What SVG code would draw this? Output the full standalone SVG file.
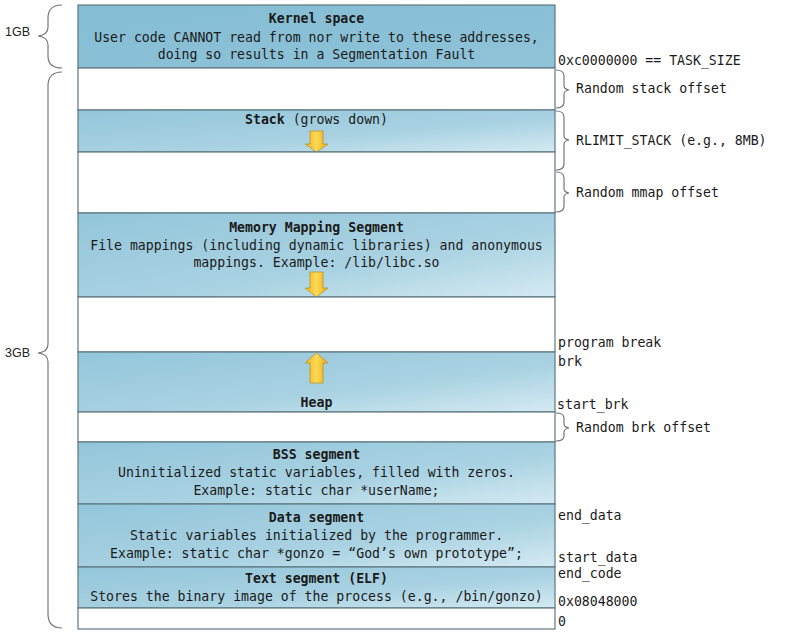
<svg xmlns="http://www.w3.org/2000/svg" width="801" height="637" viewBox="0 0 801 637">
  <style>
    .t { font-family: "DejaVu Sans Mono", "Liberation Mono", monospace; font-size: 13.2px; fill: #1a1a1a; }
    .c { text-anchor: middle; }
    .b { font-weight: bold; }
    .seg { stroke: #5e7880; stroke-width: 1.2; }
    .blank { fill: #ffffff; }
    .blue { fill: url(#segGrad); }
    .brace { fill: none; stroke: #777; stroke-width: 1.2; }
    .arrow { fill: url(#arrowGrad); stroke: #b8962e; stroke-width: 0.8; }
    .side { font-family: "Liberation Sans", "DejaVu Sans", sans-serif; font-size: 12.5px; fill: #222; }
  </style>
  <defs>
    <linearGradient id="segGrad" x1="0" y1="0" x2="1" y2="1">
      <stop offset="0" stop-color="#93c6da"/>
      <stop offset="0.6" stop-color="#a9d2e2"/>
      <stop offset="1" stop-color="#d4eaf2"/>
    </linearGradient>
    <linearGradient id="kernGrad" x1="0" y1="0" x2="1" y2="1">
      <stop offset="0" stop-color="#84bdd4"/>
      <stop offset="1" stop-color="#8fc3d8"/>
    </linearGradient>
    <linearGradient id="arrowGrad" x1="0" y1="0" x2="1" y2="0">
      <stop offset="0" stop-color="#f2b21c"/>
      <stop offset="0.5" stop-color="#fcd955"/>
      <stop offset="1" stop-color="#eea812"/>
    </linearGradient>
  </defs>

  <rect width="801" height="637" fill="#ffffff"/>

  <!-- memory segments, top (high addresses) to bottom -->
  <g id="kernel">
    <rect class="seg" x="78" y="5" width="477" height="63" fill="url(#kernGrad)"/>
    <text class="t c b" x="316.5" y="23">Kernel space</text>
    <text class="t c" x="316.5" y="42">User code CANNOT read from nor write to these addresses,</text>
    <text class="t c" x="316.5" y="59">doing so results in a Segmentation Fault</text>
  </g>
  <g id="gap-stack">
    <rect class="seg blank" x="78" y="68" width="477" height="42"/>
  </g>
  <g id="stack">
    <rect class="seg blue" x="78" y="110" width="477" height="42"/>
    <text class="t c" x="316.5" y="124"><tspan class="b">Stack</tspan> (grows down)</text>
    <path class="arrow" d="M310,131 H323 V144 H328 L316.5,152 L305,144 H310 Z"/>
  </g>
  <g id="gap-mmap">
    <rect class="seg blank" x="78" y="152" width="477" height="61"/>
  </g>
  <g id="mmap">
    <rect class="seg blue" x="78" y="213" width="477" height="84"/>
    <text class="t c b" x="316.5" y="232">Memory Mapping Segment</text>
    <text class="t c" x="316.5" y="250">File mappings (including dynamic libraries) and anonymous</text>
    <text class="t c" x="316.5" y="267">mappings. Example: /lib/libc.so</text>
    <path class="arrow" d="M310,272 H323 V288 H328 L316.5,297 L305,288 H310 Z"/>
  </g>
  <g id="gap-heap">
    <rect class="seg blank" x="78" y="297" width="477" height="55"/>
  </g>
  <g id="heap">
    <rect class="seg blue" x="78" y="352" width="477" height="60"/>
    <path class="arrow" d="M316.5,353 L328,363 H323 V383 H310 V363 H305 Z"/>
    <text class="t c b" x="316.5" y="407">Heap</text>
  </g>
  <g id="gap-brk">
    <rect class="seg blank" x="78" y="412" width="477" height="30"/>
  </g>
  <g id="bss">
    <rect class="seg blue" x="78" y="442" width="477" height="62"/>
    <text class="t c b" x="316.5" y="459">BSS segment</text>
    <text class="t c" x="316.5" y="477">Uninitialized static variables, filled with zeros.</text>
    <text class="t c" x="316.5" y="495">Example: static char *userName;</text>
  </g>
  <g id="data">
    <rect class="seg blue" x="78" y="504" width="477" height="63"/>
    <text class="t c b" x="316.5" y="522">Data segment</text>
    <text class="t c" x="316.5" y="540">Static variables initialized by the programmer.</text>
    <text class="t c" x="316.5" y="558">Example: static char *gonzo = “God’s own prototype”;</text>
  </g>
  <g id="text-seg">
    <rect class="seg blue" x="78" y="567" width="477" height="41"/>
    <text class="t c b" x="316.5" y="583">Text segment (ELF)</text>
    <text class="t c" x="316.5" y="601">Stores the binary image of the process (e.g., /bin/gonzo)</text>
  </g>
  <g id="gap-low">
    <rect class="seg blank" x="78" y="608" width="477" height="21"/>
  </g>

  <!-- braces and size labels -->
  <g id="connectors">
    <path class="brace" d="M62,5 Q48,5 48,18 V27 Q48,35 38,36 Q48,37 48,45 V56 Q48,68 62,68"/>
    <path class="brace" d="M62,72 Q48,72 48,86 V344 Q48,352 38,353 Q48,354 48,362 V614 Q48,628 62,628"/>
    <path class="brace" d="M556,70 Q564,70 564,76 V86 Q564,89 569,90 Q564,91 564,94 V102 Q564,108 556,108"/>
    <path class="brace" d="M556,111 Q564,111 564,117 V136 Q564,139 569,140 Q564,141 564,144 V164 Q564,170 556,170"/>
    <path class="brace" d="M556,172 Q564,172 564,178 V189 Q564,192 569,193 Q564,194 564,197 V206 Q564,212 556,212"/>
    <path class="brace" d="M556,413 Q564,413 564,418 V424 Q564,427 569,428 Q564,429 564,432 V436 Q564,441 556,441"/>
  </g>

  <g id="sizes">
    <text class="side" x="5" y="36">1GB</text>
    <text class="side" x="5" y="357">3GB</text>
  </g>

  <g id="addresses">
    <text class="t" x="558" y="65">0xc0000000 == TASK_SIZE</text>
    <text class="t" x="576" y="93">Random stack offset</text>
    <text class="t" x="576" y="145">RLIMIT_STACK (e.g., 8MB)</text>
    <text class="t" x="576" y="197">Random mmap offset</text>
    <text class="t" x="558" y="347">program break</text>
    <text class="t" x="558" y="366">brk</text>
    <text class="t" x="557" y="409">start_brk</text>
    <text class="t" x="576" y="432">Random brk offset</text>
    <text class="t" x="558" y="520">end_data</text>
    <text class="t" x="558" y="562">start_data</text>
    <text class="t" x="558" y="578">end_code</text>
    <text class="t" x="558" y="606">0x08048000</text>
    <text class="t" x="558" y="626">0</text>
  </g>
</svg>
